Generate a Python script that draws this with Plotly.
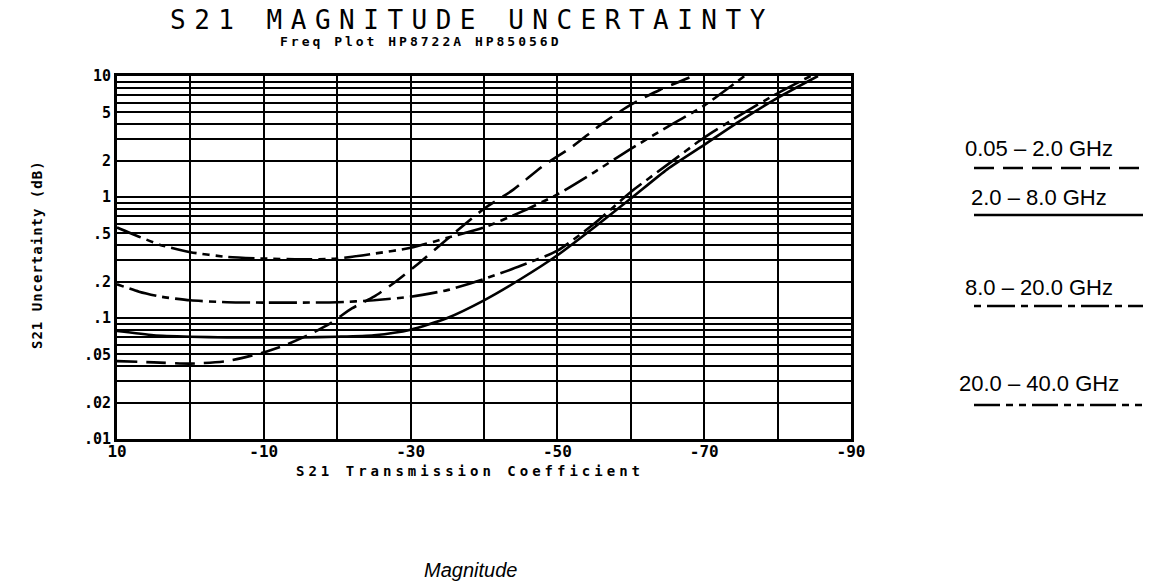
import plotly.graph_objects as go

# ---------------- data ----------------
band_names = ["0.05 \u2013 2.0 GHz", "2.0 \u2013 8.0 GHz", "8.0 \u2013 20.0 GHz", "20.0 \u2013 40.0 GHz"]

x_low = [10, 5, 0, -5, -10, -13, -16, -19, -22, -25, -28, -31, -35, -40, -44, -48, -52, -56, -60, -64, -68.5]
y_low = [0.044, 0.043, 0.042, 0.044, 0.052, 0.06, 0.072, 0.09, 0.12, 0.15, 0.2, 0.28, 0.45, 0.8, 1.15, 1.8, 2.6, 4.0, 5.8, 7.7, 10]

x_mid = [10, 5, 0, -5, -10, -15, -20, -25, -30, -35, -40, -45, -50, -55, -60, -65, -70, -75, -80, -85.5]
y_mid = [0.078, 0.072, 0.07, 0.069, 0.069, 0.069, 0.07, 0.072, 0.08, 0.1, 0.14, 0.21, 0.33, 0.56, 0.97, 1.7, 2.7, 4.3, 6.6, 10]

x_high = [10, 7, 4, 0, -5, -10, -15, -20, -25, -30, -35, -40, -45, -50, -55, -60, -65, -70, -75, -80, -84.5]
y_high = [0.19, 0.165, 0.15, 0.14, 0.135, 0.134, 0.134, 0.135, 0.14, 0.15, 0.17, 0.21, 0.27, 0.36, 0.6, 1.1, 1.85, 3.1, 4.8, 7.2, 10]

x_top = [10, 7, 4, 0, -5, -10, -15, -20, -25, -30, -35, -40, -45, -50, -55, -60, -65, -70, -75.5]
y_top = [0.56, 0.47, 0.4, 0.35, 0.32, 0.31, 0.305, 0.31, 0.34, 0.38, 0.46, 0.56, 0.75, 1.05, 1.6, 2.5, 3.8, 5.7, 10]

x_grid = [10, 0, -10, -20, -30, -40, -50, -60, -70, -80, -90]
x_labels = {10: "10", -10: "-10", -30: "-30", -50: "-50", -70: "-70", -90: "-90"}

y_decades = [0.01, 0.1, 1]
y_digits = [1, 2, 3, 4, 5, 6, 7, 8, 9]
y_labels = {10: "10", 5: "5", 2: "2", 1: "1", 0.5: ".5", 0.2: ".2", 0.1: ".1",
            0.05: ".05", 0.02: ".02", 0.01: ".01"}

# ---------------- styles ----------------
dashes = ["20px,9px", "solid", "7px,6px,28px,6px", "26px,6px,7px,6px,7px,6px"]
LW = 2.6
HP = "DejaVu Sans Mono"

W, H = 1156, 586
# plot area in pixels
L, R, T, B = 117, 851, 76, 439


def px(xp):
    return (xp - L) / (R - L)


def py(yp):
    return (B - yp) / (B - T)


fig = go.Figure()
for xs, ys, d, n in zip([x_low, x_mid, x_high, x_top], [y_low, y_mid, y_high, y_top], dashes, band_names):
    fig.add_trace(go.Scatter(x=xs, y=ys, mode="lines", name=n,
                             line=dict(color="black", width=LW, dash=d, shape="spline", smoothing=0.6),
                             showlegend=False, hoverinfo="skip"))

y_vals = [round(d * k, 6) for d in y_decades for k in y_digits] + [10]
y_text = ["<b>%s</b>" % y_labels[v] if v in y_labels else "" for v in y_vals]
x_text = ["<b>%s</b>" % x_labels[v] if v in x_labels else "" for v in x_grid]

fig.update_xaxes(range=[10, -90], tickvals=x_grid, ticktext=x_text, showgrid=True, gridcolor="black", gridwidth=2,
                 showline=True, linecolor="black", linewidth=3, mirror=True, zeroline=False, ticks="",
                 ticklabelstandoff=-4, tickfont=dict(family=HP, size=16, color="black"))
fig.update_yaxes(type="log", range=[-2, 1], tickvals=y_vals, ticktext=y_text, showgrid=True, gridcolor="black", gridwidth=2,
                 showline=True, linecolor="black", linewidth=3, mirror=True, zeroline=False, ticks="",
                 tickfont=dict(family=HP, size=15, color="black"))

ann = []
ann.append(dict(text='<span style="letter-spacing:8.5px">S21 MAGNITUDE UNCERTAINTY</span>', x=px(472), y=py(20),
                font=dict(family=HP, size=26, color="black")))
ann.append(dict(text='<b><span style="letter-spacing:3px">Freq Plot HP8722A HP85056D</span></b>', x=px(421), y=py(42),
                font=dict(family=HP, size=13, color="black")))
ann.append(dict(text='<b><span style="letter-spacing:4px">S21 Transmission Coefficient</span></b>', x=px(470), y=py(471),
                font=dict(family=HP, size=14, color="black")))
ann.append(dict(text='<b><span style="letter-spacing:1px">S21 Uncertainty (dB)</span></b>', x=px(37), y=py(255),
                textangle=-90, font=dict(family=HP, size=14, color="black")))
ann.append(dict(text="<i>Magnitude</i>", x=px(470), y=py(570), font=dict(family="Liberation Sans", size=20, color="black")))

legend_text_y = [148, 197, 287, 383]
legend_line_y = [168, 215, 306, 405]
for n, ty, ly, d in zip(band_names, legend_text_y, legend_line_y, dashes):
    ann.append(dict(text=n, x=px(1039), y=py(ty), font=dict(family="Liberation Sans", size=22, color="black")))
    fig.add_shape(type="line", xref="paper", yref="paper", x0=px(974), x1=px(1143), y0=py(ly), y1=py(ly),
                  line=dict(color="black", width=LW, dash=d))

for a in ann:
    a.update(xref="paper", yref="paper", showarrow=False, xanchor="center", yanchor="middle")
fig.update_layout(annotations=ann, width=W, height=H, margin=dict(l=L, r=W - R, t=T, b=H - B),
                  paper_bgcolor="white", plot_bgcolor="white", showlegend=False, hovermode=False)

fig.write_html("out.html", config={"displayModeBar": False},
               post_script="document.body.style.margin='0px';document.body.style.overflow='hidden';")
